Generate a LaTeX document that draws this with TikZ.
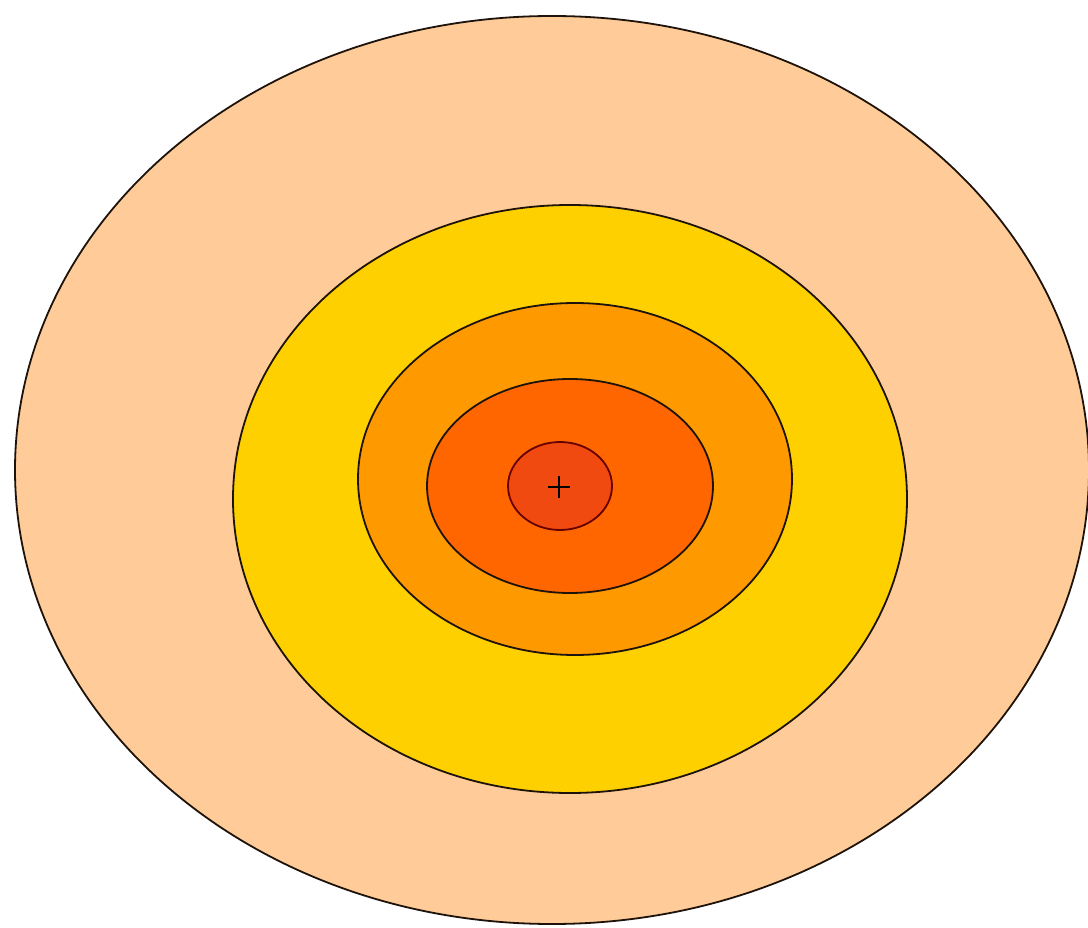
\documentclass[tikz,border=0pt]{standalone}
\definecolor{peach}{HTML}{FFCC99}
\definecolor{gold}{HTML}{FFD000}
\definecolor{amber}{HTML}{FF9900}
\definecolor{darkorange}{HTML}{FF6600}
\definecolor{redorange}{HTML}{F04A10}
\begin{document}
\begin{tikzpicture}[x=1pt,y=-1pt,
  ring/.style={draw=black!85!brown, line width=1.8pt}]
\useasboundingbox (0,0) rectangle (1088,928);
\fill[white] (0,0) rectangle (1088,928);
\path[ring, fill=peach] (552,470) ellipse [x radius=537, y radius=454];
\path[ring, fill=gold] (570,499) ellipse [x radius=337, y radius=294];
\path[ring, fill=amber] (575,479) ellipse [x radius=217, y radius=176];
\path[ring, fill=darkorange] (570,486) ellipse [x radius=143, y radius=107];
\path[ring, fill=redorange, draw=black!60!red] (560,486) ellipse [x radius=52, y radius=44];
\coordinate (c) at (559,487);
\draw[line width=1.8pt] ([xshift=-11pt]c) -- ([xshift=11pt]c) ([yshift=-11pt]c) -- ([yshift=11pt]c);
\end{tikzpicture}
\end{document}
